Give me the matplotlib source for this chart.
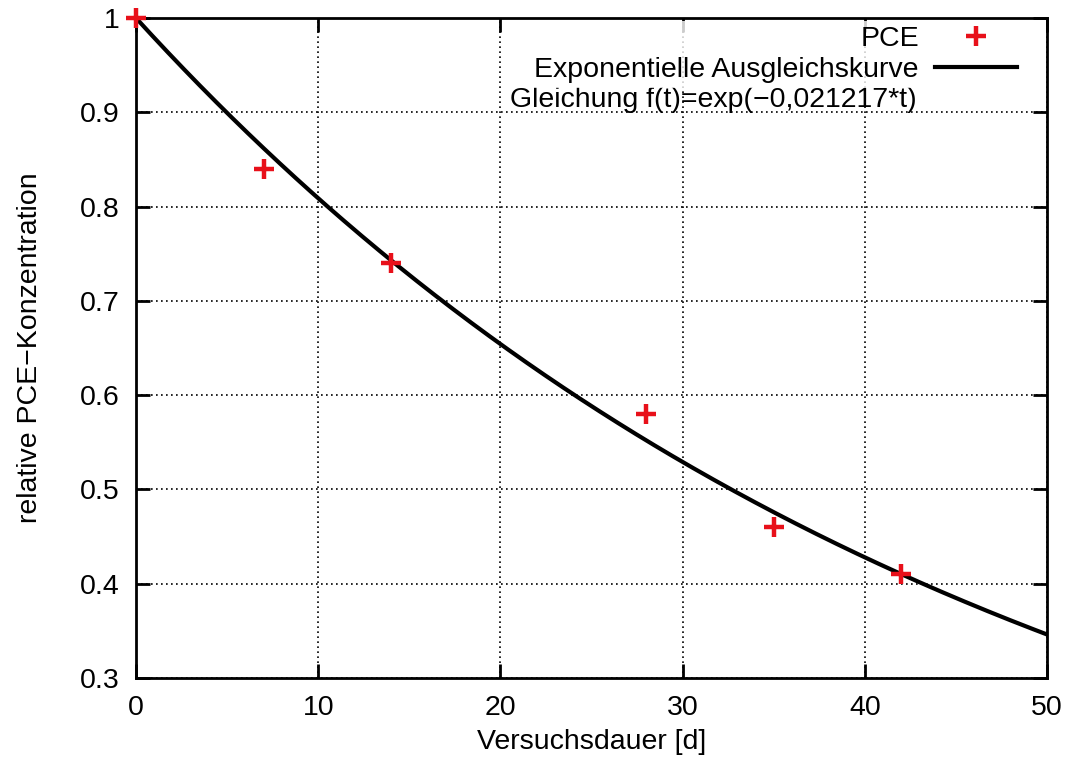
import numpy as np
import matplotlib
matplotlib.use("Agg")
import matplotlib.pyplot as plt
from matplotlib.lines import Line2D

plt.rcParams['font.family'] = ['Liberation Sans', 'DejaVu Sans']

# Measured relative PCE concentration over test duration (days)
days = [0, 7, 14, 28, 35, 42]
pce = [1.0, 0.84, 0.74, 0.58, 0.46, 0.41]

# Exponential fit f(t) = exp(-k t)
k = 0.021217
t_fit = np.linspace(0, 50, 400)
f_fit = np.exp(-k * t_fit)

x_ticks = [0, 10, 20, 30, 40, 50]
y_ticks = [0.3, 0.4, 0.5, 0.6, 0.7, 0.8, 0.9, 1.0]
y_tick_labels = ["0.3", "0.4", "0.5", "0.6", "0.7", "0.8", "0.9", "1"]

fs = 20.5

fig = plt.figure(figsize=(10.70, 7.64), dpi=100)
ax = fig.add_axes([136 / 1070, 1 - 678 / 764, 911 / 1070, 660 / 764])

ax.plot(t_fit, f_fit, color='black', lw=3.0, zorder=3)
ax.plot(days, pce, linestyle='none', marker='+', color='#e8101a',
        markersize=15, markeredgewidth=3.2, zorder=4, clip_on=False)

ax.set_xlim(0, 50)
ax.set_ylim(0.3, 1.0)
ax.set_xticks(x_ticks)
ax.set_yticks(y_ticks)
ax.set_yticklabels(y_tick_labels)
ax.tick_params(direction='in', length=10, width=2, labelsize=fs,
               top=True, right=True, pad=12)
for s in ax.spines.values():
    s.set_linewidth(2)

ax.grid(True, linestyle=(0, (1, 2.0)), color='black', linewidth=1.2)
ax.set_axisbelow(True)

ax.set_xlabel("Versuchsdauer [d]", fontsize=fs, labelpad=6)
ax.set_ylabel("relative PCE\u2212Konzentration", fontsize=fs, labelpad=26)

handles = [
    Line2D([], [], linestyle='none', marker='+', color='#e8101a',
           markersize=15, markeredgewidth=3.2),
    Line2D([], [], color='black', lw=3.0),
]
leg = ax.legend(handles, ["PCE", "Exponentielle Ausgleichskurve"],
                loc='upper right', bbox_to_anchor=(0.972, 0.995),
                markerfirst=False, fontsize=fs, frameon=True,
                handlelength=2.9, handletextpad=0.55, labelspacing=0.2,
                borderpad=0.15, borderaxespad=0.0, fancybox=False)
leg.get_frame().set_facecolor('white')
leg.get_frame().set_edgecolor('white')
leg.get_frame().set_linewidth(0)
for txt in leg.get_texts():
    txt.set_ha('right')
leg._legend_box.align = 'right'

ax.text(0.857, 0.876, "Gleichung f(t)=exp(\u22120,021217*t)",
        transform=ax.transAxes, ha='right', va='center', fontsize=fs)

fig.savefig("out.png", dpi=100)
